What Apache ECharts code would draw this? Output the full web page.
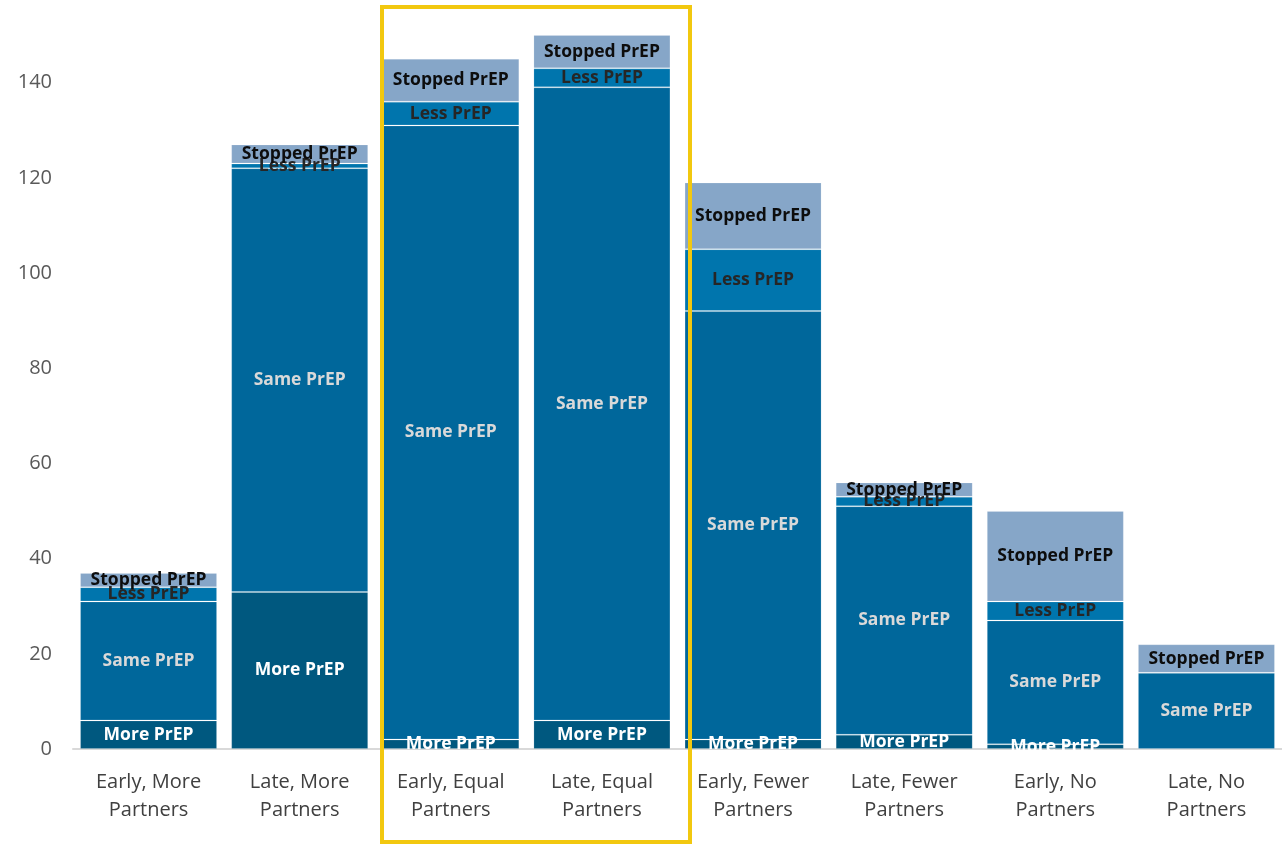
<!DOCTYPE html>
<html>
<head>
<meta charset="utf-8">
<script src="https://cdn.jsdelivr.net/npm/echarts@6/dist/echarts.min.js"></script>
<style>
html,body{margin:0;padding:0;background:#fff;}
#chart{width:1282px;height:845px;}
</style>
</head>
<body>
<div id="chart"></div>
<script>
var categories = ['Early, More\nPartners','Late, More\nPartners','Early, Equal\nPartners','Late, Equal\nPartners','Early, Fewer\nPartners','Late, Fewer\nPartners','Early, No\nPartners','Late, No\nPartners'];
var morePrEP    = [6, 33, 2, 6, 2, 3, 1, 0];
var samePrEP    = [25, 89, 129, 133, 90, 48, 26, 16];
var lessPrEP    = [3, 1, 5, 4, 13, 2, 4, 0];
var stoppedPrEP = [3, 4, 9, 7, 14, 3, 19, 6];
var yTicks = [0, 20, 40, 60, 80, 100, 120, 140];

var FONT = '"Open Sans", "Noto Sans", sans-serif';
function mk(name, data, color, labelColor) {
  return {
    name: name, type: 'bar', stack: 'total', data: data, barWidth: 137,
    itemStyle: { color: color, borderColor: 'rgba(255,255,255,0.15)', borderWidth: 1 },
    label: {
      show: true, position: 'inside', formatter: function(p){ return p.value > 0 ? name : ''; },
      color: labelColor, fontFamily: FONT, fontWeight: 'bold', fontSize: 17.5
    },
    emphasis: { disabled: true }
  };
}
var chart = echarts.init(document.getElementById('chart'), null, { renderer: 'canvas' });
chart.setOption({
  animation: false,
  grid: { left: 73, right: 0, top: 35, bottom: 96, containLabel: false },
  xAxis: {
    type: 'category', data: categories,
    axisLine: { lineStyle: { color: '#d9d9d9', width: 2 } },
    axisTick: { show: false },
    axisLabel: { color: '#404040', fontFamily: FONT, fontSize: 20, lineHeight: 28, margin: 19, interval: 0 }
  },
  yAxis: {
    type: 'value', min: 0, max: 150, interval: 20,
    splitLine: { show: false }, axisLine: { show: false }, axisTick: { show: false },
    axisLabel: { color: '#595959', fontFamily: FONT, fontSize: 20, margin: 21, showMaxLabel: false,
      formatter: function(v){ return yTicks.indexOf(v) >= 0 ? String(v) : ''; } }
  },
  series: [
    mk('More PrEP', morePrEP, '#00587f', '#ffffff'),
    mk('Same PrEP', samePrEP, '#00679b', '#d9d9d9'),
    mk('Less PrEP', lessPrEP, '#0075ad', '#262626'),
    mk('Stopped PrEP', stoppedPrEP, '#86a6c8', '#0d0d0d')
  ],
  graphic: [{
    type: 'rect', shape: { x: 382, y: 7, width: 308, height: 835 },
    style: { fill: 'none', stroke: '#f2c80f', lineWidth: 4 }, z: 100
  }]
});
</script>
</body>
</html>
